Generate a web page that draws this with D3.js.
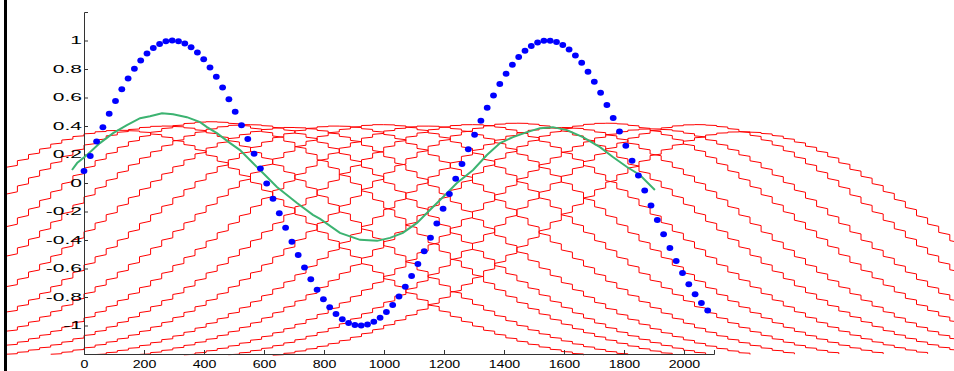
<!DOCTYPE html>
<html>
<head>
<meta charset="utf-8">
<script src="https://cdn.jsdelivr.net/npm/d3@7"></script>
<style>
  body { margin: 0; background: #fff; }
  svg { display: block; }
</style>
</head>
<body>
<div id="canvas"></div>
<script>
// ////////// DATA //////////

// blue target samples
var sampleX = [0, 21, 42, 63, 84, 105, 126, 147, 168, 189, 210, 231, 252, 273, 294, 315, 336, 357, 378, 399,
  420, 441, 462, 483, 504, 525, 546, 567, 588, 609, 630, 651, 672, 693, 714, 735, 756, 777, 798, 819,
  840, 861, 882, 903, 924, 945, 966, 987, 1008, 1029, 1050, 1071, 1092, 1113, 1134, 1155, 1176, 1197, 1218, 1239,
  1260, 1281, 1302, 1323, 1344, 1365, 1386, 1407, 1428, 1449, 1470, 1491, 1512, 1533, 1554, 1575, 1596, 1617, 1638, 1659,
  1680, 1701, 1722, 1743, 1764, 1785, 1806, 1827, 1848, 1869, 1890, 1911, 1932, 1953, 1974, 1995, 2016, 2037, 2058, 2079];
var sampleY = [0.085, 0.190, 0.292, 0.391, 0.486, 0.575, 0.658, 0.734, 0.801, 0.860,
  0.909, 0.948, 0.976, 0.994, 1.000, 0.995, 0.979, 0.953, 0.916, 0.868,
  0.811, 0.745, 0.670, 0.588, 0.500, 0.406, 0.308, 0.206, 0.101, -0.004,
  -0.110, -0.213, -0.314, -0.412, -0.505, -0.593, -0.675, -0.749, -0.815, -0.872,
  -0.920, -0.957, -0.982, -0.997, -1.000, -0.993, -0.974, -0.945, -0.905, -0.856,
  -0.796, -0.728, -0.652, -0.569, -0.479, -0.384, -0.284, -0.181, -0.077, 0.029,
  0.134, 0.237, 0.338, 0.436, 0.528, 0.614, 0.694, 0.766, 0.830, 0.884,
  0.928, 0.962, 0.986, 0.998, 0.999, 0.989, 0.968, 0.937, 0.895, 0.843,
  0.781, 0.711, 0.633, 0.548, 0.457, 0.361, 0.261, 0.157, 0.052, -0.053,
  -0.158, -0.260, -0.360, -0.456, -0.547, -0.632, -0.710, -0.780, -0.842, -0.895];

// green network output
var fitX = [-40, -23, 10, 53, 97, 143, 187, 220, 260, 297, 343, 387, 410, 443, 487, 520, 563, 610, 643, 710,
  763, 787, 853, 920, 977, 1020, 1063, 1110, 1153, 1197, 1243, 1297, 1343, 1387, 1430, 1477, 1520, 1563, 1610, 1663,
  1720, 1763, 1810, 1853, 1903];
var fitY = [0.091, 0.140, 0.196, 0.280, 0.350, 0.406, 0.455, 0.469, 0.490, 0.483, 0.462, 0.427, 0.392, 0.350, 0.280, 0.231, 0.140, 0.042, -0.028, -0.140,
  -0.224, -0.252, -0.350, -0.399, -0.406, -0.385, -0.350, -0.280, -0.189, -0.098, 0.000, 0.091, 0.196, 0.280, 0.322, 0.357, 0.385, 0.392, 0.371, 0.322,
  0.252, 0.182, 0.112, 0.056, -0.049];

// red radial units: centre and top value of each one
var rbfCenters = [110, 257, 410, 533, 677, 830, 980, 1130, 1280, 1430, 1580, 1730, 1880, 2030, 2180];
var rbfPeaks = [0.37, 0.40, 0.43, 0.41, 0.39, 0.40, 0.41, 0.40, 0.41, 0.42, 0.39, 0.42, 0.38, 0.41, 0.36];
var rbfBase = -1.29, rbfWidth = 633, rbfSpan = 1560, rbfStep = 37;

var xTicks = [0, 200, 400, 600, 800, 1000, 1200, 1400, 1600, 1800, 2000];
var yTicks = [-1, -0.8, -0.6, -0.4, -0.2, 0, 0.2, 0.4, 0.6, 0.8, 1];

///////// GLOBAL VARS //////////

var W = 954, H = 371;

var svg = d3.select("#canvas")
  .append("svg")
  .attr("width", W)
  .attr("height", H)
  .style("background-color", "#fff");

var x = d3.scaleLinear().domain([0, 2100]).range([84, 714]);
var y = d3.scaleLinear().domain([-1.2, 1.2]).range([354, 12]);

// black strip on the left edge
svg.append("rect")
  .attr("x", 4).attr("y", 0)
  .attr("width", 3).attr("height", H)
  .attr("fill", "#000");

svg.append("clipPath").attr("id", "clip")
  .append("rect")
  .attr("x", 7).attr("y", 0)
  .attr("width", W - 7).attr("height", H);

// red units, drawn as stepped polylines over a shared grid
function rbfPoints(c, peak) {
  var amp = peak - rbfBase;
  var g = v => rbfBase + amp * Math.exp(-((v - c) * (v - c)) / (2 * rbfWidth * rbfWidth));
  var start = Math.ceil((c - rbfSpan) / rbfStep) * rbfStep;
  var pts = [[start, g(start)]];
  for (var v = start; v + rbfStep <= c + rbfSpan; v += rbfStep) {
    var a = g(v), b = g(v + rbfStep);
    pts.push([v + rbfStep, a + 0.28 * (b - a)]);
    pts.push([v + rbfStep, b]);
  }
  return pts;
}

var line = d3.line().x(d => x(d[0])).y(d => y(d[1]));

svg.append("g")
  .attr("clip-path", "url(#clip)")
  .selectAll("path")
  .data(rbfCenters.map((c, i) => rbfPoints(c, rbfPeaks[i])))
  .join("path")
  .attr("d", line)
  .attr("fill", "none")
  .attr("stroke", "#ff0000")
  .attr("stroke-width", 1);

// axes
function fmt(d) { return String(+d.toFixed(1)); }

var yAxis = svg.append("g")
  .attr("transform", `translate(${x(0)},0)`)
  .call(d3.axisLeft(y).tickValues(yTicks).tickSizeInner(-4).tickSizeOuter(-4).tickPadding(3).tickFormat(fmt));

var xAxis = svg.append("g")
  .attr("transform", `translate(0,${y(-1.2)})`)
  .call(d3.axisBottom(x).tickValues(xTicks).tickSizeInner(-4).tickSizeOuter(-4).tickPadding(7).tickFormat(fmt));

[yAxis, xAxis].forEach(a => {
  a.select(".domain").attr("stroke", "#333");
  a.selectAll(".tick line").attr("stroke", "#333");
  a.selectAll("text")
    .attr("fill", "#000")
    .style("font-family", "Liberation Sans, Arial, sans-serif")
    .style("font-size", "10.5px");
});

// text in the picture is stretched sideways
yAxis.selectAll("text").attr("x", null)
  .attr("transform", "translate(-2,0) scale(2,1)");
xAxis.selectAll("text")
  .attr("transform", "scale(1.35,1)");

// green output
svg.append("path")
  .datum(fitX.map((v, i) => [v, fitY[i]]))
  .attr("d", line)
  .attr("fill", "none")
  .attr("stroke", "#3cb371")
  .attr("stroke-width", 2);

// blue samples
svg.selectAll("ellipse.sample")
  .data(sampleX.map((v, i) => [v, sampleY[i]]))
  .join("ellipse")
  .attr("class", "sample")
  .attr("cx", d => x(d[0]))
  .attr("cy", d => y(d[1]))
  .attr("rx", 3.4)
  .attr("ry", 3)
  .attr("fill", "#0000ff");
</script>
</body>
</html>
